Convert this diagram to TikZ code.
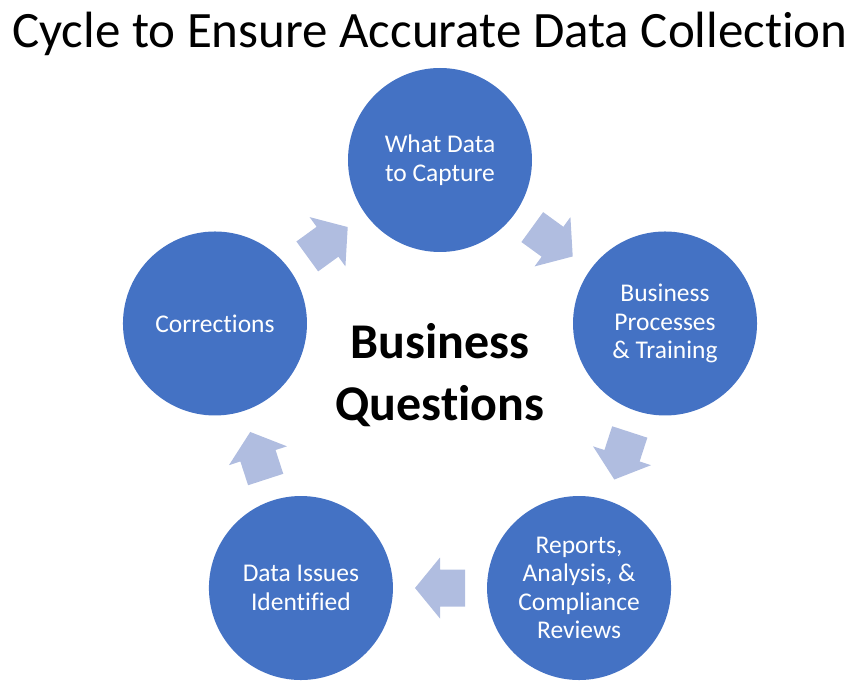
\documentclass[tikz,border=0pt]{standalone}
\usepackage{fontspec}
\setmainfont{Carlito}[Ligatures=CommonOff]
\usepackage{tikz}
\usepackage{xcolor}
\definecolor{stageblue}{HTML}{4472C4}
\definecolor{flowblue}{HTML}{B0BDE0}

\begin{document}
\begin{tikzpicture}[x=1pt, y=1pt,
    stage/.style={circle, fill=stageblue, minimum size=184pt, inner sep=0pt,
      text=white, align=center, font=\fontsize{25.5}{28.5}\selectfont},
    flow/.style={fill=flowblue}]
  \useasboundingbox (-440,-291.4) rectangle (419,396.6);
  \node (title) at (-10,363) {\fontsize{51}{61}\selectfont Cycle to Ensure Accurate Data Collection};
  \node[stage] (what) at (90:236.6) {What Data\\to Capture};
  \node[stage] (process) at (18:236.6) {Business\\Processes\\\& Training};
  \node[stage] (reports) at (-54:236.6) {Reports,\\Analysis, \&\\Compliance\\Reviews};
  \node[stage] (issues) at (-126:236.6) {Data Issues\\Identified};
  \node[stage] (corrections) at (162:236.6) {Corrections};
  \node[align=center, font=\fontsize{50}{62}\selectfont\bfseries] (hub) at (0,22) {Business\\Questions};
  % block arrows between the stages
  \foreach \ang in {54,-18,-90,-162,126}
    \fill[flow, shift={(\ang:191.4)}, rotate=\ang-90]
      (-25,-18.5) -- (0,-18.5) -- (0,-30.5) -- (25,0) -- (0,30.5) -- (0,18.5) -- (-25,18.5) -- cycle;
\end{tikzpicture}
\end{document}
